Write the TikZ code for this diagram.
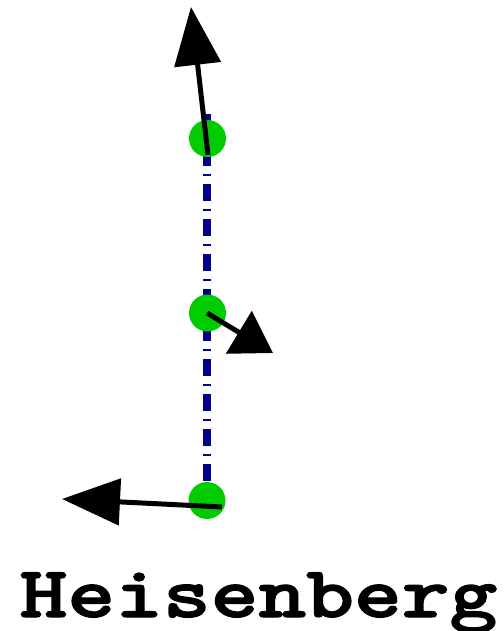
\documentclass[tikz,border=0pt]{standalone}
\usepackage{fontspec}
\newfontfamily\heavytt[FakeBold=1.6]{lmmonolt10-bold.otf}
\usetikzlibrary{arrows.meta}
\definecolor{ptgreen}{RGB}{0,204,0}
\definecolor{ptnavy}{RGB}{0,0,139}
\begin{document}
\begin{tikzpicture}[x=1pt,y=-1pt,
  site/.style={circle,fill=ptgreen,minimum size=37pt,inner sep=0pt},
  chainline/.style={ptnavy,line width=7.5pt,dash pattern=on 17pt off 8pt on 2pt off 8pt},
  spin/.style={line width=5pt,-{Triangle[length=58pt,width=46pt]}},
  spinshort/.style={line width=5pt,-{Triangle[length=40pt,width=49pt]}},
  lbl/.style={font=\heavytt\fontsize{91}{100}\selectfont,inner sep=0pt,anchor=base}
  ]
\useasboundingbox (0,0) rectangle (503,631);
\coordinate (top) at (207,114);
\coordinate (bot) at (207,500);
\draw[chainline] (top) -- (bot);
\node[site] (s1) at (207.5,138.5) {};
\node[site] (s2) at (207.5,313) {};
\node[site] (s3) at (207,500.5) {};
\coordinate (a1) at (208,155);
\coordinate (t1) at (191,7);
\coordinate (a2) at (207,313);
\coordinate (t2) at (273,353);
\coordinate (a3) at (222,507);
\coordinate (t3) at (62,499);
\draw[spin] (a1) -- (t1);
\draw[spinshort] (a2) -- (t2);
\draw[spin] (a3) -- (t3);
\node[lbl] (name) at (258.5,617) {\scalebox{1}[0.8]{Heisenberg}};
\end{tikzpicture}
\end{document}
